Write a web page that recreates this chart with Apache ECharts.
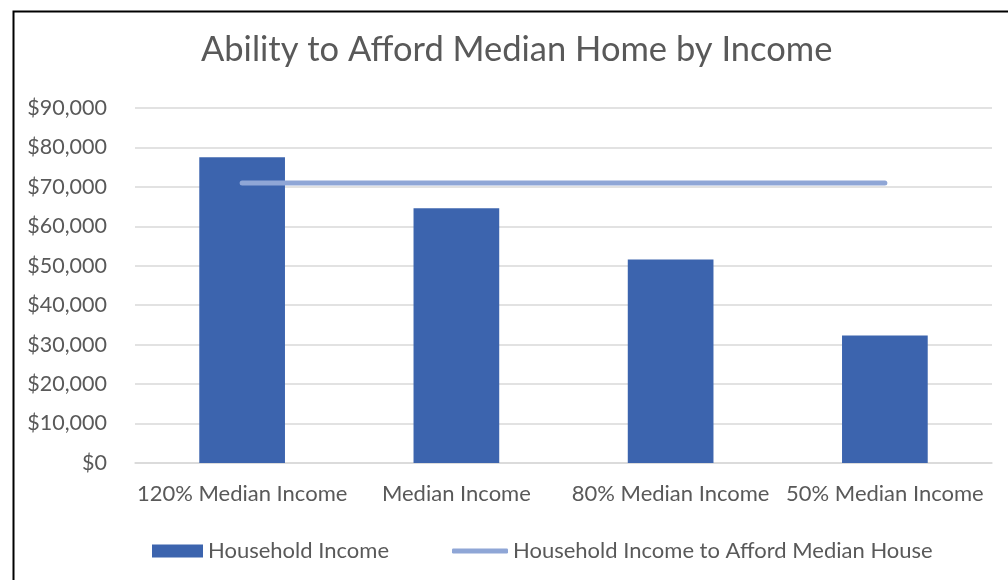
<!DOCTYPE html>
<html>
<head>
<meta charset="utf-8">
<script src="https://cdn.jsdelivr.net/npm/echarts@6/dist/echarts.min.js"></script>
<style>html,body{margin:0;padding:0;background:#fff}#c{width:1008px;height:580px}</style>
</head>
<body>
<div id="c"></div>
<script>
var categories = ['120% Median Income', 'Median Income', '80% Median Income', '50% Median Income'];
var householdIncome = [77500, 64600, 51600, 32300];
var affordIncome = [71000, 71000, 71000, 71000];
var yTicks = {min: 0, max: 90000, interval: 10000};

var FONT = 'Lato, "Open Sans", sans-serif';
var TXT = '#595959';
var chart = echarts.init(document.getElementById('c'));
chart.setOption({
  backgroundColor: '#fff',
  animation: false,
  title: {
    text: 'Ability to Afford Median Home by Income',
    left: 196, top: 27,
    textStyle: {fontFamily: FONT, fontSize: 34.5, fontWeight: 'normal', color: TXT}
  },
  graphic: [{
    type: 'rect', left: 11, top: 9, z: 100, silent: true,
    shape: {width: 1010, height: 600},
    style: {fill: 'none', stroke: '#000', lineWidth: 2}
  }],
  grid: {left: 135, right: 16, top: 108, bottom: 117},
  legend: [{
    left: 147, top: 535, itemWidth: 51, itemHeight: 13,
    textStyle: {fontFamily: FONT, fontSize: 22, color: TXT},
    data: [{name: 'Household Income', icon: 'rect'}]
  }, {
    left: 447, top: 535, itemWidth: 56, itemHeight: 5,
    textStyle: {fontFamily: FONT, fontSize: 22, color: TXT},
    data: [{name: 'Household Income to Afford Median House', icon: 'roundRect'}]
  }],
  xAxis: {
    type: 'category', data: categories,
    axisLine: {lineStyle: {color: '#d9d9d9', width: 1.5}},
    axisTick: {show: false},
    axisLabel: {fontFamily: FONT, fontSize: 22, color: TXT, margin: 20, interval: 0}
  },
  yAxis: {
    type: 'value', min: yTicks.min, max: yTicks.max, interval: yTicks.interval,
    axisLine: {show: false}, axisTick: {show: false},
    splitLine: {lineStyle: {color: '#d9d9d9', width: 1.5}},
    axisLabel: {fontFamily: FONT, fontSize: 21.5, color: TXT, margin: 28,
      formatter: function (v) { return '$' + v.toLocaleString('en-US'); }}
  },
  series: [{
    name: 'Household Income', type: 'bar', data: householdIncome,
    barWidth: '40%', itemStyle: {color: '#3c64ae'}
  }, {
    name: 'Household Income to Afford Median House', type: 'line', data: affordIncome,
    symbol: 'none', z: 5,
    lineStyle: {color: '#8fa6d6', width: 5, cap: 'round'},
    itemStyle: {color: '#8fa6d6'}
  }]
});
</script>
</body>
</html>
